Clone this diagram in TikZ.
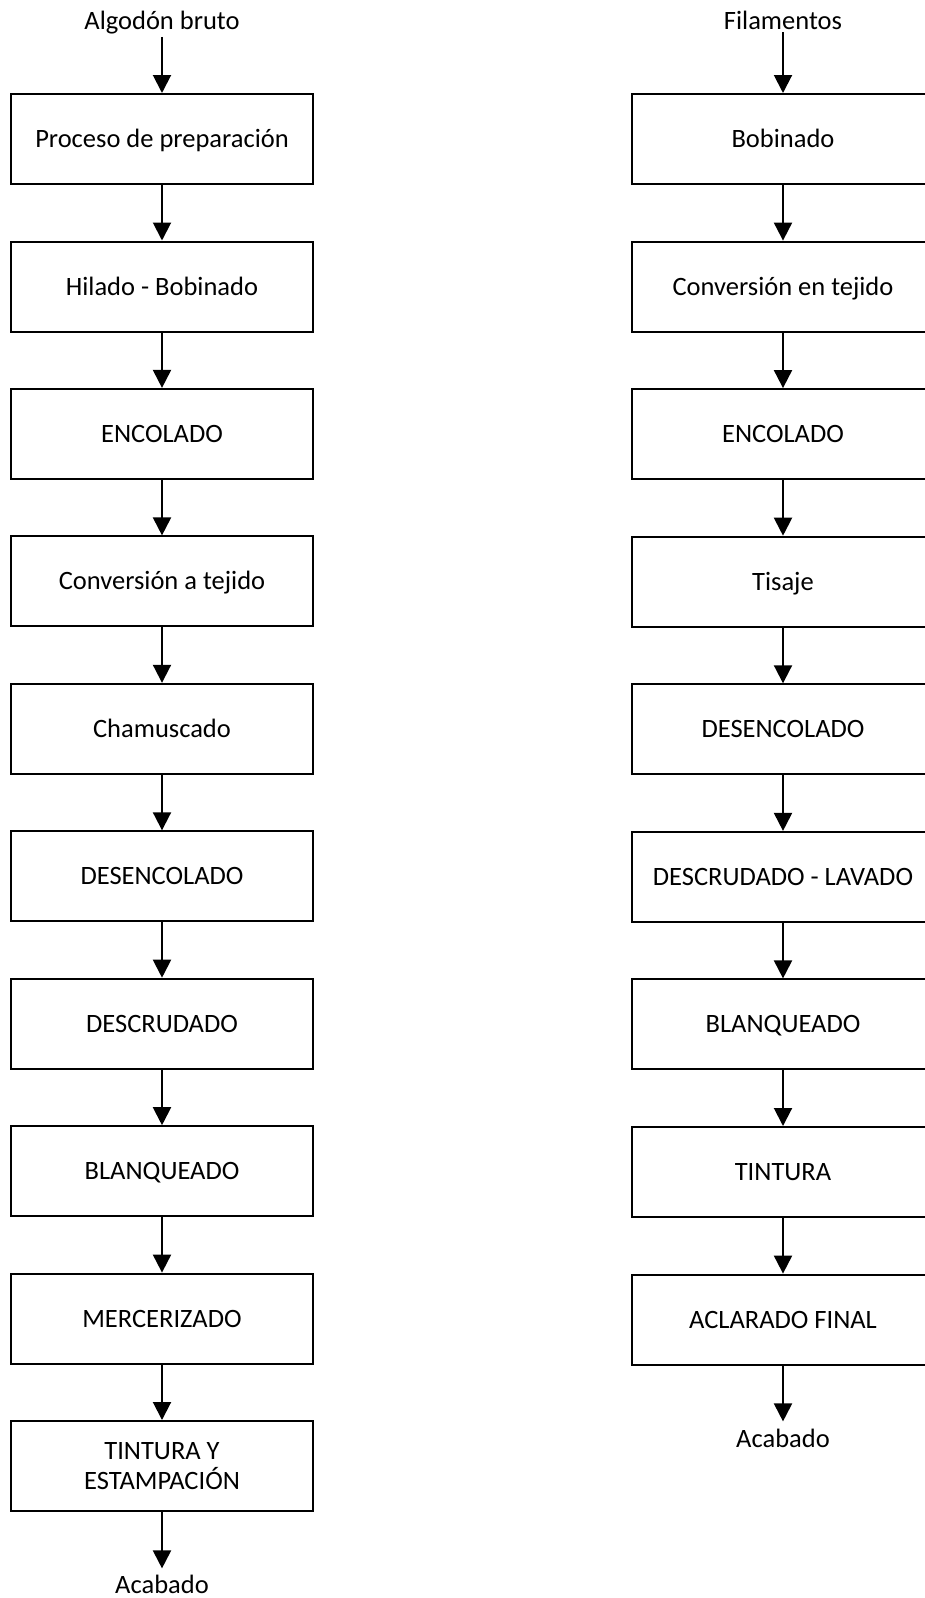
\documentclass[tikz,border=0pt]{standalone}
\usepackage{fontspec}
\setmainfont{Carlito}
\usetikzlibrary{arrows.meta}
\tikzset{
  box/.style={draw, line width=2pt, minimum width=302pt, minimum height=90pt, inner sep=0pt, text height=17pt, text depth=0pt, align=center},
  arr/.style={-{Triangle[width=18pt,length=18pt]}, line width=2pt},
  lbl/.style={inner sep=0pt, anchor=base}
}
\begin{document}
\begin{tikzpicture}[x=1pt,y=-1pt,font=\fontsize{26.5}{30}\selectfont]
\clip (0,0) rectangle (925,1598);
\fill[white] (0,0) rectangle (925,1598);
% left column
\node[lbl] (inA) at (162,29) {Algodón bruto};
\node[box] (L0) at (162,139.0) {Proceso de preparación};
\node[box] (L1) at (162,286.5) {Hilado - Bobinado};
\node[box] (L2) at (162,433.9) {ENCOLADO};
\node[box] (L3) at (162,581.4) {Conversión a tejido};
\node[box] (L4) at (162,728.8) {Chamuscado};
\node[box] (L5) at (162,876.3) {DESENCOLADO};
\node[box] (L6) at (162,1023.7) {DESCRUDADO};
\node[box] (L7) at (162,1171.2) {BLANQUEADO};
\node[box] (L8) at (162,1318.6) {MERCERIZADO};
\node[box, text height=, text depth=] (L9) at (162,1466.0) {TINTURA Y\\ESTAMPACIÓN};
\node[lbl] (outA) at (162,1593) {Acabado};
% right column
\node[lbl] (inB) at (783,29) {Filamentos};
\node[box] (R0) at (783,139.0) {Bobinado};
\node[box] (R1) at (783,286.6) {Conversión en tejido};
\node[box] (R2) at (783,434.1) {ENCOLADO};
\node[box] (R3) at (783,581.7) {Tisaje};
\node[box] (R4) at (783,729.3) {DESENCOLADO};
\node[box] (R5) at (783,876.9) {DESCRUDADO - LAVADO};
\node[box] (R6) at (783,1024.4) {BLANQUEADO};
\node[box] (R7) at (783,1172.0) {TINTURA};
\node[box] (R8) at (783,1319.6) {ACLARADO FINAL};
\node[lbl] (outB) at (783,1447) {Acabado};
% connectors
\draw[arr, shorten <=3pt] (inA.south) -- (L0.north);
\foreach \a/\b in {0/1,1/2,2/3,3/4,4/5,5/6,6/7,7/8,8/9}
  \draw[arr] (L\a.south) -- (L\b.north);
\draw[arr, shorten >=6pt] (L9.south) -- (outA.north);
\draw[arr, shorten <=3pt] (inB.south) -- (R0.north);
\foreach \a/\b in {0/1,1/2,2/3,3/4,4/5,5/6,6/7,7/8}
  \draw[arr] (R\a.south) -- (R\b.north);
\draw[arr, shorten >=7pt] (R8.south) -- (outB.north);
\end{tikzpicture}
\end{document}
